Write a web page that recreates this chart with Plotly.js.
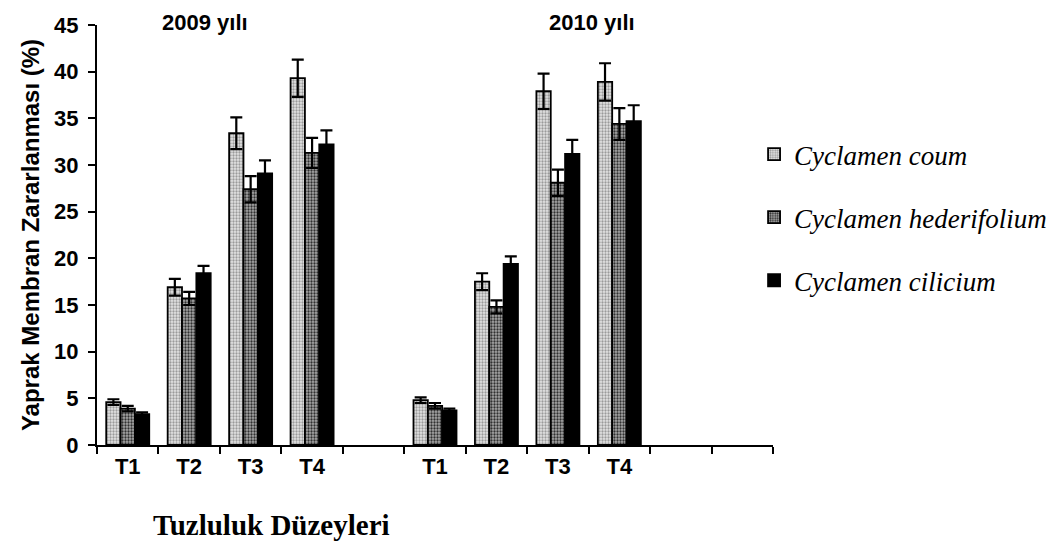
<!DOCTYPE html>
<html>
<head>
<meta charset="utf-8">
<script src="https://cdn.plot.ly/plotly-3.0.1.min.js"></script>
<style>html,body{margin:0;padding:0;background:#fff;}#chart{width:1064px;height:545px;}</style>
</head>
<body>
<div id="chart"></div>
<script>
// ---- data ----
const categoryLabels = ['T1','T2','T3','T4','','T1','T2','T3','T4','',''];
const categoryIndex = [0,1,2,3,4,5,6,7,8,9,10];
const boundaryTicks = [-0.5,0.5,1.5,2.5,3.5,4.5,5.5,6.5,7.5,8.5,9.5,10.5];
const seriesNames = ['Cyclamen coum','Cyclamen hederifolium','Cyclamen cilicium'];
const coum    = [4.6,16.9,33.4,39.3,null,4.8,17.5,37.9,38.9,null,null];
const coumErr = [0.3,0.9,1.7,2.0,0,0.3,0.9,1.9,2.0,0,0];
const hed     = [3.9,15.7,27.4,31.3,null,4.2,14.8,28.1,34.4,null,null];
const hedErr  = [0.3,0.7,1.4,1.6,0,0.3,0.7,1.4,1.7,0,0];
const cil     = [3.3,18.4,29.1,32.2,null,3.7,19.4,31.2,34.7,null,null];
const cilErr  = [0.2,0.8,1.4,1.5,0,0.2,0.8,1.5,1.7,0,0];
const yearLabels = ['2009 yılı','2010 yılı'];
const yTicks = [0,5,10,15,20,25,30,35,40,45];
const yTitle = 'Yaprak Membran Zararlanması (%)';
const xTitle = 'Tuzluluk Düzeyleri';

const sans = 'Liberation Sans, Arial, sans-serif';
const serif = 'Liberation Serif, Times New Roman, serif';

function barTrace(name, vals, errs, bg, fg, group) {
  return {
    type: 'bar', name: name, x: categoryIndex, y: vals,
    legendgroup: group,
    marker: {
      color: bg,
      line: {color: '#000', width: 1.8},
      pattern: fg ? {shape: '.', fgcolor: fg, bgcolor: bg, size: 3, solidity: 0.45} : undefined
    },
    error_y: {type: 'data', array: errs, visible: true, color: '#000', thickness: 2.2, width: 6}
  };
}

const data = [
  barTrace(seriesNames[0], coum, coumErr, '#e4e4e4', '#9a9a9a', 'a'),
  barTrace(seriesNames[1], hed, hedErr, '#a8a8a8', '#303030', 'b'),
  barTrace(seriesNames[2], cil, cilErr, '#000000', null, 'c'),
  // carrier for the category label axis (no visible marks)
  {type: 'scatter', mode: 'markers', x: categoryIndex, y: categoryIndex.map(() => null),
   xaxis: 'x2', yaxis: 'y', showlegend: false, hoverinfo: 'skip'}
];

const layout = {
  width: 1064, height: 545,
  margin: {l: 97, r: 289, t: 25, b: 100},
  paper_bgcolor: '#fff', plot_bgcolor: '#fff',
  barmode: 'group', bargap: 0.3, bargroupgap: 0,
  showlegend: true,
  legend: {
    x: 0.972, xanchor: 'left', y: 0.75, yanchor: 'top',
    traceorder: 'grouped', tracegroupgap: 25,
    font: {family: serif, size: 27, style: 'italic', color: '#000'},
    itemwidth: 30, bgcolor: 'rgba(0,0,0,0)'
  },
  xaxis: {
    range: [-0.5, 10.5], showline: true, linecolor: '#000', linewidth: 2,
    tickmode: 'array', tickvals: boundaryTicks, showticklabels: false,
    ticks: 'outside', ticklen: 7, tickwidth: 2, tickcolor: '#000',
    showgrid: false, zeroline: false, fixedrange: true
  },
  xaxis2: {
    overlaying: 'x', anchor: 'y', side: 'bottom',
    range: [-0.5, 10.5], showline: false,
    tickmode: 'array', tickvals: categoryIndex, ticktext: categoryLabels,
    ticks: '', ticklabelstandoff: 6,
    tickfont: {family: sans, size: 22, weight: 'bold', color: '#000'},
    showgrid: false, zeroline: false
  },
  yaxis: {
    range: [0, 45], tickmode: 'array', tickvals: yTicks,
    showline: true, linecolor: '#000', linewidth: 2,
    ticks: 'outside', ticklen: 7, tickwidth: 2, tickcolor: '#000',
    tickfont: {family: sans, size: 22, weight: 'bold', color: '#000'},
    ticklabelstandoff: 5,
    showgrid: false, zeroline: false,
    title: {text: yTitle, font: {family: sans, size: 24, weight: 'bold', color: '#000'}, standoff: 8}
  },
  annotations: [
    {text: yearLabels[0], xref: 'x', yref: 'paper', x: 1.25, y: 1.005, xanchor: 'center', yanchor: 'middle', showarrow: false,
     font: {family: sans, size: 22, weight: 'bold', color: '#000'}},
    {text: yearLabels[1], xref: 'x', yref: 'paper', x: 7.55, y: 1.005, xanchor: 'center', yanchor: 'middle', showarrow: false,
     font: {family: sans, size: 22, weight: 'bold', color: '#000'}},
    {text: xTitle, xref: 'paper', yref: 'paper', x: 0.258, y: -0.19, xanchor: 'center', yanchor: 'middle', showarrow: false,
     font: {family: serif, size: 29, weight: 'bold', color: '#000'}}
  ]
};

Plotly.newPlot('chart', data, layout, {displayModeBar: false, staticPlot: true});
</script>
</body>
</html>
